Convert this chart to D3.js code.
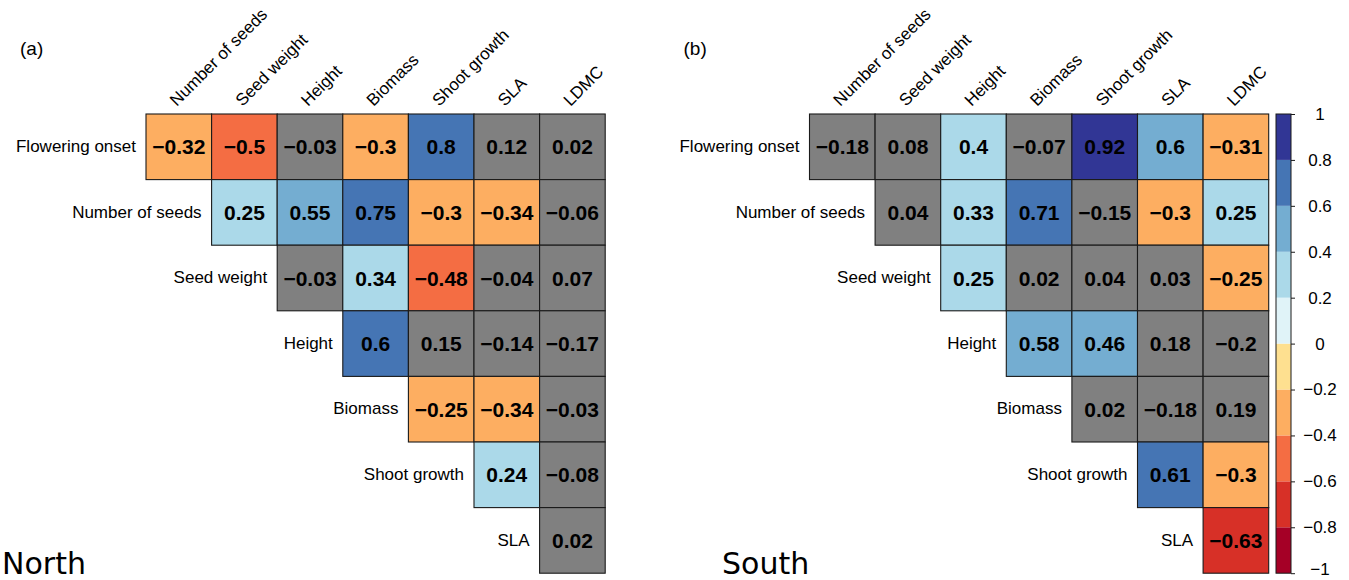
<!DOCTYPE html>
<html>
<head>
<meta charset="utf-8">
<script src="https://cdn.jsdelivr.net/npm/d3@7"></script>
<style>
  html, body { margin: 0; padding: 0; background: #fff; }
  svg { display: block; }
  text { font-family: "Liberation Sans", Arial, sans-serif; fill: #000; }
</style>
</head>
<body>
<svg id="chart" width="1349" height="580"></svg>
<script>
// Trait names (row labels use the first seven, column labels the last seven)
const traits = ["Flowering onset", "Number of seeds", "Seed weight", "Height",
                "Biomass", "Shoot growth", "SLA", "LDMC"];

// Upper-triangle correlation coefficients, one array per row
const northR = [
  [-0.32, -0.5, -0.03, -0.3, 0.797, 0.12, 0.02],
  [0.25, 0.55, 0.75, -0.3, -0.34, -0.06],
  [-0.03, 0.34, -0.48, -0.04, 0.07],
  [0.603, 0.15, -0.14, -0.17],
  [-0.25, -0.34, -0.03],
  [0.24, -0.08],
  [0.02]
];
// 1 = significant correlation, 0 = not significant (grey cell)
const northSig = [
  [1, 1, 0, 1, 1, 0, 0],
  [1, 1, 1, 1, 1, 0],
  [0, 1, 1, 0, 0],
  [1, 0, 0, 0],
  [1, 1, 0],
  [1, 0],
  [0]
];

const southR = [
  [-0.18, 0.08, 0.398, -0.07, 0.92, 0.597, -0.31],
  [0.04, 0.33, 0.71, -0.15, -0.3, 0.25],
  [0.25, 0.02, 0.04, 0.03, -0.25],
  [0.58, 0.46, 0.18, -0.2],
  [0.02, -0.18, 0.19],
  [0.61, -0.3],
  [-0.63]
];
const southSig = [
  [0, 0, 1, 0, 1, 1, 1],
  [0, 1, 1, 0, 1, 1],
  [1, 0, 0, 0, 1],
  [1, 1, 0, 0],
  [0, 0, 0],
  [1, 1],
  [1]
];

// Colour bins and legend ticks
const binEdges = [-0.8, -0.6, -0.4, -0.2, 0, 0.2, 0.4, 0.6, 0.8];
const binColors = ["#a50026", "#d73027", "#f46d43", "#fdae61", "#fee090",
                   "#e0f3f8", "#abd9e9", "#74add1", "#4575b4", "#313695"];
const legendTicks = [-1, -0.8, -0.6, -0.4, -0.2, 0, 0.2, 0.4, 0.6, 0.8, 1];

const svg = d3.select("#chart");
const color = d3.scaleThreshold().domain(binEdges).range(binColors);
const fmt = d3.format(".2~f");
const nsGrey = "#808080";

const cell = 65.6;
const top0 = 114;
const n = traits.length - 1;

function drawPanel(x0, R, S, tag, region, regionX) {
  const g = svg.append("g");
  const xs = d3.scaleBand().domain(traits.slice(1)).range([x0, x0 + n * cell]);
  const ys = d3.scaleBand().domain(traits.slice(0, n)).range([top0, top0 + n * cell]);

  const cells = [];
  R.forEach((row, i) => row.forEach((v, k) => {
    cells.push({ row: traits[i], col: traits[i + 1 + k], v: v, sig: S[i][k] });
  }));

  g.selectAll("rect.cell").data(cells).join("rect")
    .attr("class", "cell")
    .attr("x", d => xs(d.col))
    .attr("y", d => ys(d.row))
    .attr("width", xs.bandwidth())
    .attr("height", ys.bandwidth())
    .attr("fill", d => d.sig ? color(d.v) : nsGrey)
    .attr("stroke", "#1a1a1a")
    .attr("stroke-width", 1.1);

  g.selectAll("text.val").data(cells).join("text")
    .attr("class", "val")
    .attr("x", d => xs(d.col) + xs.bandwidth() / 2)
    .attr("y", d => ys(d.row) + ys.bandwidth() / 2)
    .attr("dy", "0.36em")
    .attr("text-anchor", "middle")
    .style("font-size", "21px")
    .style("font-weight", "bold")
    .text(d => fmt(d.v));

  // Row labels, right-aligned against the first cell of each row
  g.selectAll("text.rowlab").data(traits.slice(0, n)).join("text")
    .attr("class", "rowlab")
    .attr("x", (d, i) => xs(traits[i + 1]) - 10)
    .attr("y", d => ys(d) + ys.bandwidth() / 2)
    .attr("dy", "0.3em")
    .attr("text-anchor", "end")
    .style("font-size", "17px")
    .text(d => d);

  // Column labels, rotated 45 degrees above the top row
  g.selectAll("text.collab").data(traits.slice(1)).join("text")
    .attr("class", "collab")
    .attr("transform", d => `translate(${xs(d) + xs.bandwidth() / 2 - 2},${top0 - 7}) rotate(-45)`)
    .attr("text-anchor", "start")
    .style("font-size", "17px")
    .text(d => d);

  svg.append("text")
    .attr("x", x0 - 126).attr("y", 55)
    .style("font-size", "19px")
    .text(tag);

  svg.append("text")
    .attr("x", regionX).attr("y", 574)
    .style("font-family", "'DejaVu Sans', sans-serif")
    .style("font-size", "30px")
    .text(region);
}

drawPanel(146, northR, northSig, "(a)", "North", 2);
drawPanel(809.5, southR, southSig, "(b)", "South", 722);

// Colour legend
const lx = 1276, lw = 15;
const ly = d3.scaleLinear().domain([-1, 1]).range([top0 + n * cell, top0]);
const bins = binColors.map((c, i) => ({
  lo: i === 0 ? -1 : binEdges[i - 1],
  hi: i === binColors.length - 1 ? 1 : binEdges[i],
  c: c
}));
const leg = svg.append("g");
leg.selectAll("rect").data(bins).join("rect")
  .attr("x", lx)
  .attr("y", d => ly(d.hi))
  .attr("width", lw)
  .attr("height", d => ly(d.lo) - ly(d.hi))
  .attr("fill", d => d.c);
leg.append("rect")
  .attr("x", lx).attr("y", ly(1))
  .attr("width", lw).attr("height", ly(-1) - ly(1))
  .attr("fill", "none").attr("stroke", "#1a1a1a").attr("stroke-width", 1);

const axis = d3.axisRight(ly).tickValues(legendTicks).tickSize(4)
  .tickFormat(d3.format("~g"));
const ax = svg.append("g")
  .attr("transform", `translate(${lx + lw},0)`)
  .call(axis);
ax.select(".domain").remove();
ax.selectAll(".tick line").attr("stroke", "#1a1a1a");
ax.selectAll(".tick text")
  .attr("x", 29)
  .attr("dy", d => d === -1 ? "0.1em" : "0.32em")
  .attr("text-anchor", "middle")
  .style("font-family", "'Liberation Sans', Arial, sans-serif")
  .style("font-size", "17px")
  .attr("fill", "#000");
</script>
</body>
</html>
